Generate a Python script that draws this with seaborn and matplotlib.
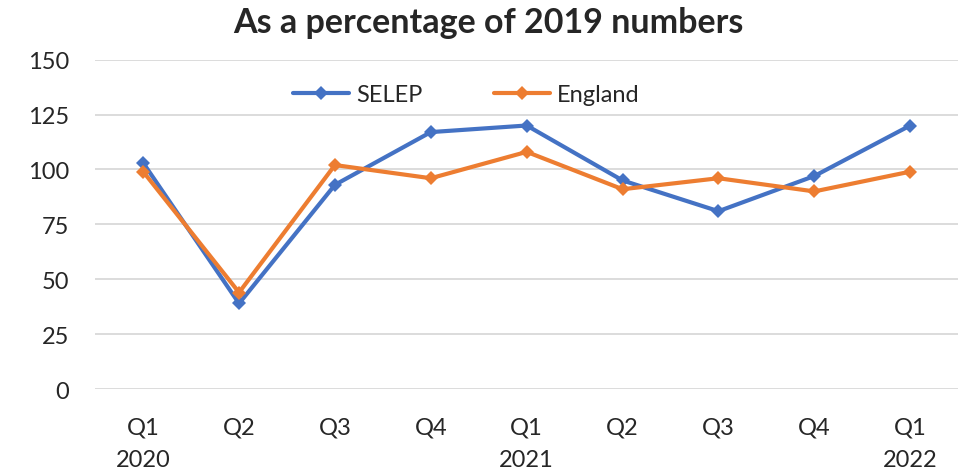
import matplotlib
matplotlib.use("Agg")
import matplotlib.pyplot as plt
import seaborn as sns
import pandas as pd

quarters = ["Q1\n2020", "Q2", "Q3", "Q4", "Q1\n2021", "Q2", "Q3", "Q4", "Q1\n2022"]
selep = [103, 39, 93, 117, 120, 95, 81, 97, 120]
england = [99, 44, 102, 96, 108, 91, 96, 90, 99]
series_names = ["SELEP", "England"]
colors = ["#4472C4", "#ED7D31"]
yticks = [0, 25, 50, 75, 100, 125, 150]

sns.set_theme(style="white")
plt.rcParams['font.family'] = ['Lato', 'DejaVu Sans']

idx = list(range(len(quarters)))
df = pd.DataFrame({
    "x": idx * 2,
    "value": selep + england,
    "series": [series_names[0]] * len(idx) + [series_names[1]] * len(idx),
})

fig = plt.figure(figsize=(9.62, 4.77), dpi=100)
ax = fig.add_axes([0.099, 0.182, 0.897, 0.691])

sns.lineplot(data=df, x="x", y="value", hue="series", palette=colors,
             marker="D", markersize=7, markeredgewidth=0, linewidth=3,
             ax=ax, zorder=3)

ax.set_xlim(-0.5, len(quarters) - 0.5)
ax.set_ylim(0, 150)
ax.set_yticks(yticks)
ax.set_yticklabels([str(v) for v in yticks], fontsize=17)
ax.set_xticks(idx)
ax.set_xticklabels(quarters, fontsize=17, linespacing=1.65)
ax.tick_params(axis="y", length=0, pad=19)
ax.tick_params(axis="x", length=0, pad=20)
for lbl in ax.get_xticklabels():
    lbl.set_verticalalignment("top")
ax.yaxis.grid(True, color="#D9D9D9", linewidth=1.3)
ax.set_axisbelow(True)
for s in ax.spines.values():
    s.set_visible(False)
ax.set_xlabel("")
ax.set_ylabel("")

leg = ax.legend(loc="upper center", bbox_to_anchor=(0.43, 0.99), ncol=2,
                frameon=False, fontsize=17, handlelength=2.4,
                columnspacing=3.0, handletextpad=0.3)

fig.text(0.508, 0.952, "As a percentage of 2019 numbers", ha="center", va="center",
         fontsize=24.5, fontweight="bold")

fig.savefig("out.png", dpi=100)
